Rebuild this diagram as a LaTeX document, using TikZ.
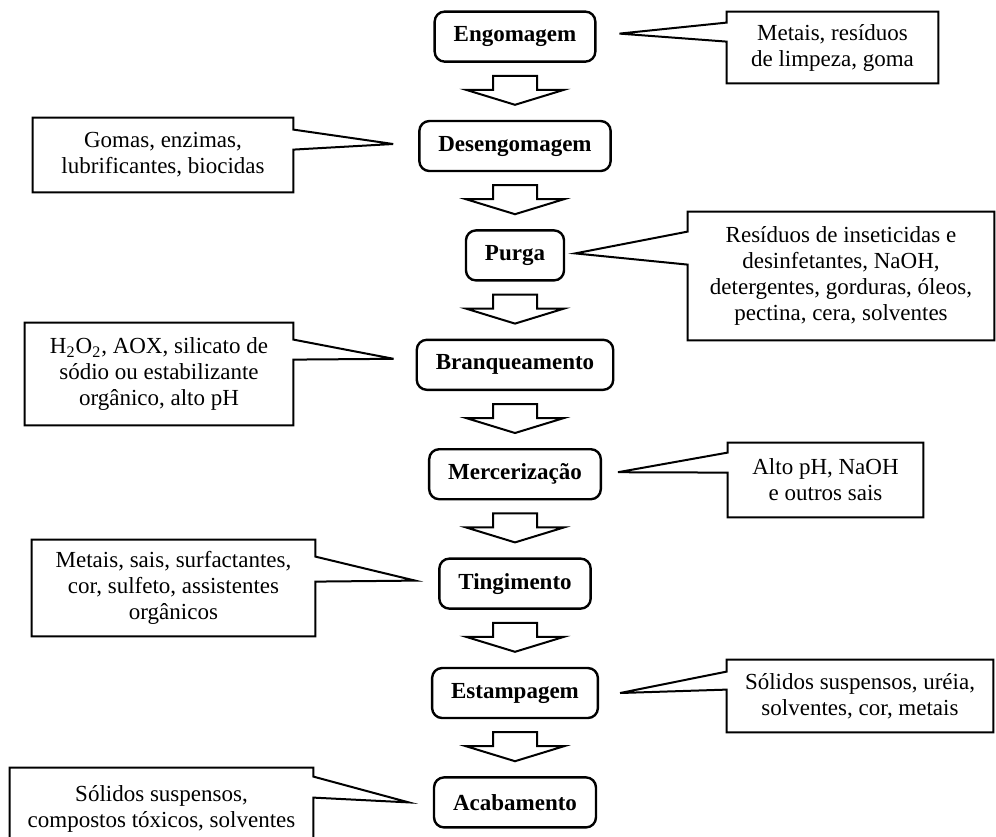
\documentclass[tikz,border=0pt]{standalone}
\usepackage{fontspec}
\setmainfont{Liberation Serif}
\usetikzlibrary{calc,positioning,matrix}
\tikzset{
  etapa/.style={rectangle, draw=black, line width=1.2pt, rounded corners=5pt, fill=white, font=\fontsize{11.5}{14}\selectfont\bfseries, minimum height=25pt, inner xsep=9.5pt, inner ysep=0pt},
  obs/.style={rectangle, align=center, inner sep=0pt, font=\fontsize{11.5}{13}\selectfont},
  balao/.style={draw=black, line width=1pt, line join=miter},
  seta/.style={draw=black, line width=1pt, fill=white, line join=miter},
}
\begin{document}
\begin{tikzpicture}[x=0.5pt,y=-0.5pt]
  \useasboundingbox (0,0) rectangle (996,836);

  \matrix[row sep=28.5pt, inner sep=0pt, anchor=north] (fluxo) at (515,10) {
    \node[etapa] (engo) {Engomagem}; \\
    \node[etapa] (desen) {Desengomagem}; \\
    \node[etapa] (purga) {Purga}; \\
    \node[etapa] (branq) {Branqueamento}; \\
    \node[etapa] (merc) {Mercerização}; \\
    \node[etapa] (ting) {Tingimento}; \\
    \node[etapa] (estamp) {Estampagem}; \\
    \node[etapa] (acab) {Acabamento}; \\
  };

  \node[obs, minimum width=105.5pt, minimum height=35.5pt] (oengo) at (832.5,47.5) {Metais, resíduos\\de limpeza, goma};
  \node[obs, minimum width=130pt, minimum height=37pt] (odesen) at (163,155) {Gomas, enzimas,\\lubrificantes, biocidas};
  \node[obs, minimum width=153pt, minimum height=64pt] (opurga) at (841,276) {Resíduos de inseticidas e\\desinfetantes, NaOH,\\detergentes, gorduras, óleos,\\pectina, cera, solventes};
  \node[obs, minimum width=134pt, minimum height=51pt] (obranq) at (159,374) {H\textsubscript{2}O\textsubscript{2}, AOX, silicato de\\sódio ou estabilizante\\orgânico, alto pH};
  \node[obs, minimum width=97.5pt, minimum height=37pt] (omerc) at (825.5,480) {Alto pH, NaOH\\e outros sais};
  \node[obs, minimum width=141.5pt, minimum height=48pt] (oting) at (173.5,588) {Metais, sais, surfactantes,\\cor, sulfeto, assistentes\\orgânicos};
  \node[obs, minimum width=133pt, minimum height=36pt] (oestamp) at (860,696) {Sólidos suspensos, uréia,\\solventes, cor, metais};
  \node[obs, minimum width=151.5pt, minimum height=41pt] (oacab) at (161.5,809) {Sólidos suspensos,\\compostos tóxicos, solventes};

  % pontas dos baloes
  \coordinate (pengo) at ($(engo.east)+(23,-3)$);
  \coordinate (pdesen) at ($(desen.west)+(-25,-2)$);
  \coordinate (ppurga) at ($(purga.east)+(10,-2)$);
  \coordinate (pbranq) at ($(branq.west)+(-22,-6)$);
  \coordinate (pmerc) at ($(merc.east)+(16,-2)$);
  \coordinate (pting) at ($(ting.west)+(-23,-3)$);
  \coordinate (pestamp) at ($(estamp.east)+(21,0)$);
  \coordinate (pacab) at ($(acab.west)+(-24,0)$);

  \begin{scope}[every path/.style=balao]
    \path (oengo.north west) -- (oengo.north east) -- (oengo.south east) -- (oengo.south west) -- ($(oengo.north west)+(0,30)$) -- (pengo) -- ($(oengo.north west)+(0,11)$) -- cycle;
    \path (opurga.north west) -- (opurga.north east) -- (opurga.south east) -- (opurga.south west) -- ($(opurga.north west)+(0,53)$) -- (ppurga) -- ($(opurga.north west)+(0,20)$) -- cycle;
    \path (omerc.north west) -- (omerc.north east) -- (omerc.south east) -- (omerc.south west) -- ($(omerc.north west)+(0,30)$) -- (pmerc) -- ($(omerc.north west)+(0,10)$) -- cycle;
    \path (oestamp.north west) -- (oestamp.north east) -- (oestamp.south east) -- (oestamp.south west) -- ($(oestamp.north west)+(0,30)$) -- (pestamp) -- ($(oestamp.north west)+(0,12)$) -- cycle;

    \path (odesen.north west) -- (odesen.north east) -- ($(odesen.north east)+(0,12)$) -- (pdesen) -- ($(odesen.north east)+(0,32)$) -- (odesen.south east) -- (odesen.south west) -- cycle;
    \path (obranq.north west) -- (obranq.north east) -- ($(obranq.north east)+(0,17)$) -- (pbranq) -- ($(obranq.north east)+(0,37)$) -- (obranq.south east) -- (obranq.south west) -- cycle;
    \path (oting.north west) -- (oting.north east) -- ($(oting.north east)+(0,17)$) -- (pting) -- ($(oting.north east)+(0,42)$) -- (oting.south east) -- (oting.south west) -- cycle;
    \path (oacab.north west) -- (oacab.north east) -- ($(oacab.north east)+(0,9)$) -- (pacab) -- ($(oacab.north east)+(0,30)$) -- (oacab.south east) -- (oacab.south west) -- cycle;
  \end{scope}

  \foreach \a/\b in {engo/desen, desen/purga, purga/branq, branq/merc, merc/ting, ting/estamp, estamp/acab}
    \draw[seta] ($(\a.south)+(-22,13)$) -- ($(\a.south)+(22,13)$) -- ($(\b.north)+(22,-30)$) -- ($(\b.north)+(49,-30)$) -- ($(\b.north)+(0,-15)$) -- ($(\b.north)+(-49,-30)$) -- ($(\b.north)+(-22,-30)$) -- cycle;

\end{tikzpicture}
\end{document}
